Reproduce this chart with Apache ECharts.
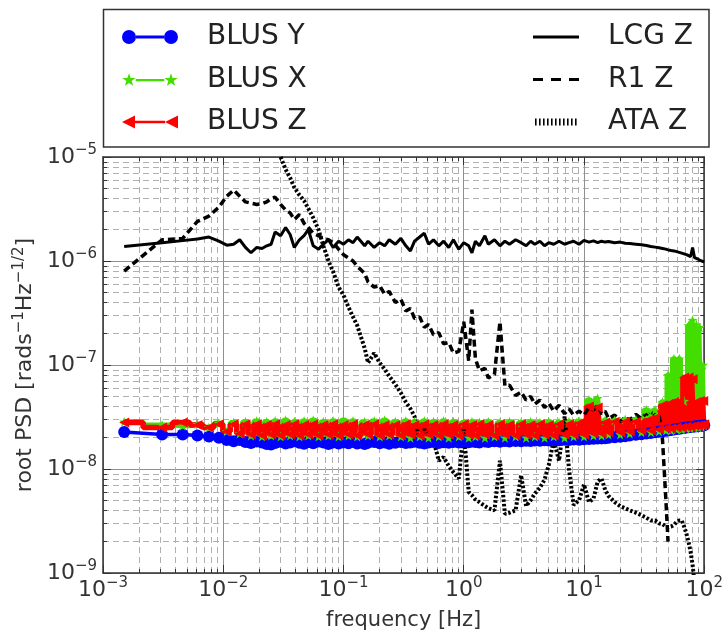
<!DOCTYPE html>
<html><head><meta charset="utf-8">
<script src="https://cdn.jsdelivr.net/npm/echarts@6/dist/echarts.min.js"></script>
<style>html,body{margin:0;padding:0;background:#fff}#c{width:726px;height:636px}</style>
</head><body><div id="c"></div>
<script>
// frequency grid [Hz]
const freq = [0.0015,0.0031,0.0046,0.0061,0.0076,0.0092,0.0107,0.0122,0.0137,0.0153,
 0.017,0.019,0.021,0.023,0.025,0.027,0.03,0.033,0.036,0.039,
 0.043,0.047,0.051,0.056,0.062,0.068,0.075,0.082,0.091,0.1,
 0.11,0.12,0.13,0.15,0.16,0.18,0.2,0.22,0.24,0.27,
 0.3,0.33,0.36,0.39,0.43,0.47,0.51,0.56,0.62,0.68,
 0.75,0.82,0.91,1.0,1.1,1.17,1.25,1.35,1.5,1.6,
 1.8,2.0,2.2,2.4,2.7,3.0,3.3,3.6,3.9,4.3,
 4.7,5.1,5.6,6.2,6.9,7.5,8.2,9.1,10,11,
 12,13,14,15,16,18,20,22,24,27,
 30,33,36,39,42,45,48,50,53,56,
 59,62,65,68,71,74,77,80,83,86,
 89,92,95,98,100];

const blusY = [2.27e-8,2.15e-8,2.15e-8,2.1e-8,2.05e-8,2.0e-8,1.9e-8,1.85e-8,1.9e-8,1.82e-8,
 1.78e-8,1.84e-8,1.8e-8,1.74e-8,1.72e-8,1.78e-8,1.83e-8,1.76e-8,1.8e-8,1.85e-8,
 1.79e-8,1.75e-8,1.82e-8,1.77e-8,1.84e-8,1.8e-8,1.74e-8,1.8e-8,1.76e-8,1.8e-8,
 1.77e-8,1.83e-8,1.76e-8,1.74e-8,1.79e-8,1.82e-8,1.77e-8,1.8e-8,1.75e-8,1.79e-8,
 1.82e-8,1.78e-8,1.8e-8,1.83e-8,1.79e-8,1.76e-8,1.8e-8,1.82e-8,1.78e-8,1.81e-8,
 1.79e-8,1.82e-8,1.8e-8,1.83e-8,1.81e-8,1.84e-8,1.82e-8,1.8e-8,1.84e-8,1.82e-8,
 1.85e-8,1.83e-8,1.86e-8,1.84e-8,1.86e-8,1.85e-8,1.87e-8,1.86e-8,1.88e-8,1.87e-8,
 1.89e-8,1.88e-8,1.9e-8,1.89e-8,1.91e-8,1.9e-8,1.92e-8,1.91e-8,1.93e-8,1.94e-8,
 1.95e-8,1.96e-8,1.97e-8,1.98e-8,2.0e-8,2.02e-8,2.04e-8,2.07e-8,2.1e-8,2.13e-8,
 2.16e-8,2.19e-8,2.22e-8,2.25e-8,2.28e-8,2.3e-8,2.33e-8,2.35e-8,2.37e-8,2.4e-8,
 2.42e-8,2.44e-8,2.46e-8,2.48e-8,2.5e-8,2.52e-8,2.53e-8,2.55e-8,2.56e-8,2.57e-8,
 2.58e-8,2.6e-8,2.61e-8,2.62e-8,2.63e-8];

const blusX = [2.85e-8,2.65e-8,2.6e-8,2.7e-8,2.5e-8,2.75e-8,2.3e-8,2.8e-8,2.2e-8,2.85e-8,
 2.1e-8,2.9e-8,2.05e-8,2.85e-8,2.1e-8,2.9e-8,2.05e-8,2.95e-8,2.1e-8,2.85e-8,
 2.05e-8,2.9e-8,2.1e-8,2.95e-8,2.05e-8,2.85e-8,2.1e-8,2.9e-8,2.05e-8,2.95e-8,
 2.1e-8,2.9e-8,2.05e-8,2.85e-8,2.1e-8,2.9e-8,2.05e-8,2.95e-8,2.1e-8,2.85e-8,
 2.05e-8,2.9e-8,2.0e-8,2.85e-8,2.05e-8,2.9e-8,2.0e-8,2.85e-8,2.05e-8,2.9e-8,
 2.0e-8,2.85e-8,2.05e-8,2.8e-8,2.0e-8,2.85e-8,2.05e-8,2.8e-8,2.0e-8,2.85e-8,
 2.05e-8,2.8e-8,2.0e-8,2.85e-8,2.05e-8,2.8e-8,2.0e-8,2.85e-8,2.05e-8,2.8e-8,
 2.0e-8,2.85e-8,2.05e-8,2.8e-8,2.0e-8,2.85e-8,2.05e-8,2.9e-8,2.05e-8,4.6e-8,
 2.1e-8,4.8e-8,2.1e-8,2.95e-8,2.15e-8,2.95e-8,2.15e-8,3.0e-8,2.2e-8,3.0e-8,
 2.25e-8,3.7e-8,2.25e-8,3.7e-8,2.3e-8,4.4e-8,2.35e-8,8.0e-8,2.35e-8,1.15e-7,
 2.4e-8,1.15e-7,2.4e-8,4.5e-8,2.45e-8,2.4e-7,2.45e-8,2.7e-7,2.5e-8,2.45e-7,
 2.5e-8,2.3e-7,2.55e-8,1.0e-7,2.6e-8];

const blusZ = [2.8e-8,2.5e-8,2.8e-8,2.65e-8,2.5e-8,2.7e-8,2.3e-8,2.7e-8,2.2e-8,2.7e-8,
 2.15e-8,2.7e-8,2.1e-8,2.65e-8,2.15e-8,2.7e-8,2.1e-8,2.65e-8,2.15e-8,2.7e-8,
 2.1e-8,2.65e-8,2.15e-8,2.7e-8,2.1e-8,2.65e-8,2.15e-8,2.7e-8,2.1e-8,2.65e-8,
 2.15e-8,2.7e-8,2.1e-8,2.65e-8,2.15e-8,2.7e-8,2.1e-8,2.65e-8,2.15e-8,2.65e-8,
 2.1e-8,2.7e-8,2.15e-8,2.65e-8,2.1e-8,2.7e-8,2.15e-8,2.65e-8,2.1e-8,2.7e-8,
 2.15e-8,2.65e-8,2.1e-8,2.7e-8,2.15e-8,2.65e-8,2.1e-8,2.7e-8,2.15e-8,2.65e-8,
 2.1e-8,2.7e-8,2.15e-8,2.65e-8,2.1e-8,2.7e-8,2.15e-8,2.65e-8,2.1e-8,2.7e-8,
 2.15e-8,2.65e-8,2.1e-8,2.7e-8,2.15e-8,2.7e-8,2.15e-8,2.75e-8,2.15e-8,4.0e-8,
 2.2e-8,3.9e-8,2.2e-8,2.8e-8,2.25e-8,2.85e-8,2.25e-8,2.85e-8,2.3e-8,2.85e-8,
 2.35e-8,2.9e-8,2.35e-8,3.1e-8,2.4e-8,4.1e-8,2.45e-8,4.2e-8,2.45e-8,4.4e-8,
 2.5e-8,4.4e-8,2.5e-8,7.6e-8,2.55e-8,7.6e-8,2.55e-8,7.3e-8,2.6e-8,4.4e-8,
 2.6e-8,4.5e-8,2.65e-8,4.5e-8,2.7e-8];

const lcgZ = [1.38e-6,1.5e-6,1.57e-6,1.63e-6,1.7e-6,1.55e-6,1.42e-6,1.45e-6,1.6e-6,1.35e-6,
 1.2e-6,1.35e-6,1.32e-6,1.4e-6,1.45e-6,1.9e-6,1.75e-6,2.1e-6,1.8e-6,1.35e-6,
 1.6e-6,1.75e-6,2.0e-6,1.4e-6,1.3e-6,1.45e-6,1.6e-6,1.35e-6,1.55e-6,1.45e-6,
 1.6e-6,1.5e-6,1.7e-6,1.4e-6,1.55e-6,1.35e-6,1.5e-6,1.4e-6,1.6e-6,1.45e-6,
 1.65e-6,1.4e-6,1.25e-6,1.55e-6,1.7e-6,1.85e-6,1.45e-6,1.6e-6,1.4e-6,1.55e-6,
 1.35e-6,1.6e-6,1.3e-6,1.5e-6,1.4e-6,1.2e-6,1.55e-6,1.4e-6,1.75e-6,1.45e-6,
 1.6e-6,1.4e-6,1.55e-6,1.45e-6,1.6e-6,1.5e-6,1.4e-6,1.55e-6,1.45e-6,1.55e-6,
 1.4e-6,1.5e-6,1.45e-6,1.55e-6,1.45e-6,1.5e-6,1.55e-6,1.45e-6,1.58e-6,1.52e-6,
 1.56e-6,1.5e-6,1.55e-6,1.52e-6,1.54e-6,1.5e-6,1.52e-6,1.48e-6,1.47e-6,1.45e-6,
 1.43e-6,1.41e-6,1.38e-6,1.36e-6,1.34e-6,1.32e-6,1.3e-6,1.28e-6,1.26e-6,1.25e-6,
 1.23e-6,1.21e-6,1.19e-6,1.17e-6,1.15e-6,1.13e-6,1.1e-6,1.35e-6,1.08e-6,1.06e-6,
 1.04e-6,1.02e-6,1.0e-6,0.99e-6,0.98e-6];

const r1Z = [8.0e-7,1.6e-6,1.65e-6,2.4e-6,2.7e-6,3.3e-6,4.2e-6,4.8e-6,4.2e-6,3.7e-6,
 3.6e-6,3.5e-6,3.55e-6,3.7e-6,4.0e-6,4.1e-6,3.5e-6,3.1e-6,2.9e-6,2.5e-6,
 2.8e-6,2.3e-6,2.1e-6,1.85e-6,1.75e-6,1.65e-6,1.6e-6,1.5e-6,1.3e-6,1.15e-6,
 1.07e-6,1.0e-6,8.9e-7,7.6e-7,6.3e-7,5.6e-7,5.8e-7,4.8e-7,5.1e-7,4.0e-7,
 4.3e-7,3.3e-7,3.5e-7,2.8e-7,2.9e-7,2.3e-7,2.45e-7,1.95e-7,2.05e-7,1.6e-7,
 1.65e-7,1.3e-7,1.35e-7,2.6e-7,1.1e-7,3.4e-7,1.15e-7,8.8e-8,9.3e-8,7.5e-8,
 8.1e-8,2.6e-7,6.3e-8,6.4e-8,5.1e-8,5.5e-8,4.6e-8,5.0e-8,4.2e-8,4.6e-8,
 3.9e-8,4.3e-8,3.6e-8,4.1e-8,3.4e-8,3.8e-8,3.3e-8,3.6e-8,3.3e-8,3.9e-8,
 3.7e-8,4.1e-8,3.4e-8,3.6e-8,3.05e-8,3.3e-8,2.85e-8,3.15e-8,2.95e-8,3.35e-8,
 3.05e-8,3.45e-8,3.25e-8,3.6e-8,3.4e-8,1.9e-8,5e-9,2e-9,null,null,
 null,null,null,null,null,null,null,null,null,null,
 null,null,null,null,null];

const ataZ = [null,null,null,null,null,null,null,null,null,null,
 null,null,null,null,null,null,1.0e-5,7.6e-6,6.3e-6,5.1e-6,
 4.3e-6,3.8e-6,3.2e-6,2.6e-6,2.0e-6,1.4e-6,1.0e-6,7.9e-7,5.6e-7,4.7e-7,
 3.6e-7,2.9e-7,2.4e-7,1.45e-7,1.05e-7,1.3e-7,1.05e-7,9.1e-8,7.8e-8,6.5e-8,
 5.4e-8,4.4e-8,3.8e-8,3.2e-8,1.8e-8,2.4e-8,2.1e-8,1.9e-8,1.2e-8,1.3e-8,
 1.07e-8,9.3e-9,8.1e-9,2.4e-8,6.0e-9,5.6e-9,5.1e-9,4.8e-9,4.4e-9,4.2e-9,
 4.0e-9,1.2e-8,3.7e-9,3.8e-9,4.0e-9,8.7e-9,4.4e-9,5.0e-9,5.8e-9,6.6e-9,
 7.9e-9,1.1e-8,1.9e-8,1.2e-8,3.2e-8,1.0e-8,4.5e-9,5.0e-9,7.1e-9,4.8e-9,
 5.2e-9,7.6e-9,8.1e-9,6.3e-9,5.5e-9,4.8e-9,4.4e-9,4.2e-9,4.0e-9,3.8e-9,
 3.6e-9,3.4e-9,3.2e-9,3.2e-9,3.0e-9,2.95e-9,2.8e-9,2.75e-9,2.8e-9,2.9e-9,
 3.1e-9,3.2e-9,3.2e-9,2.8e-9,2.4e-9,2.0e-9,1.6e-9,1.2e-9,8e-10,5e-10,
 null,null,null,null,null];

const xTickRange = [1e-3, 1e2];
const yTickRange = [1e-9, 1e-5];

const FONT = 'DejaVu Sans';
const TXT = '#333';
function pairs(arr){ return freq.map(function(f,i){ return [f, arr[i]]; }); }
function supLabel(v){
  const e = Math.round(Math.log10(v));
  return '{b|10}{s|' + (e < 0 ? '\u2212' + (-e) : String(e)) + '}';
}
const richTick = {
  b: {fontSize: 22, fontFamily: FONT, color: TXT},
  s: {fontSize: 15, fontFamily: FONT, color: TXT, padding: [0,0,13,0]}
};

// legend icons
const iconY = 'path://M0,0M56,14M0,7a7,7 0 1,0 14,0a7,7 0 1,0 -14,0Z M42,7a7,7 0 1,0 14,0a7,7 0 1,0 -14,0Z M14,5.6H42V8.4H14Z';
const iconX = 'path://M0,0M56,14M7,0.7L8.65,5.43L13.66,5.54L9.66,8.57L11.11,13.36L7,10.5L2.89,13.36L4.34,8.57L0.34,5.54L5.35,5.43Z' +
  'M49,0.7L50.65,5.43L55.66,5.54L51.66,8.57L53.11,13.36L49,10.5L44.89,13.36L46.34,8.57L42.34,5.54L47.35,5.43Z M13.7,6.4H42.3V8.8H13.7Z';
const iconZ = 'path://M0,0M56,14M0,7L13,0.5L13,13.5Z M43,7L56,0.5L56,13.5Z M13,5.8H43V8.2H13Z';
const iconLCG = 'path://M0,0M46,14M0,5.6H46V8.4H0Z';
const iconR1 = 'path://M0,0M46,14M0,5.6H10V8.4H0Z M18,5.6H28V8.4H18Z M36,5.6H46V8.4H36Z';
let ataPath = 'path://M0,0M46,14';
for (let k = 0; k < 11; k++) { const x0 = 2 + k * 4; ataPath += 'M' + x0 + ',3.5h1.6v7h-1.6Z'; }
const iconATA = ataPath;

const starSym = 'path://M0,-7L1.65,-2.27L6.66,-2.16L2.66,0.87L4.11,5.66L0,2.8L-4.11,5.66L-2.66,0.87L-6.66,-2.16L-1.65,-2.27Z';
const triLeft = 'path://M0,5L10,0L10,10Z';

function baseAxis(pos, range, showLabel){
  return {
    type: 'log', logBase: 10, min: range[0], max: range[1], position: pos,
    axisLine: {show: true, onZero: false, lineStyle: {color: '#333', width: 1.5}},
    axisTick: {show: true, inside: true, length: 8, lineStyle: {color: '#333', width: 1}},
    minorTick: {show: true, splitNumber: 9, length: 4, lineStyle: {color: '#333', width: 1}},
    splitLine: {show: showLabel, lineStyle: {color: '#8f8f8f', width: 1}},
    minorSplitLine: {show: showLabel, lineStyle: {color: '#b0b0b0', width: 1, type: [6,4]}},
    axisLabel: {show: showLabel, formatter: supLabel, rich: richTick},
    silent: true
  };
}
const xMain = baseAxis('bottom', xTickRange, true);
xMain.axisLabel.margin = 3;
xMain.name = 'frequency [Hz]';
xMain.nameLocation = 'middle';
xMain.nameGap = 37;
xMain.nameTextStyle = {fontSize: 21, fontFamily: FONT, color: TXT};
const xTop = baseAxis('top', xTickRange, false);
const yMain = baseAxis('left', yTickRange, true);
yMain.axisLabel.margin = 6;
yMain.name = 'root PSD [rads{s|\u22121}Hz{s|\u22121/2}]';
yMain.nameLocation = 'middle';
yMain.nameGap = 57;
yMain.nameTextStyle = {fontSize: 22, fontFamily: FONT, color: TXT,
  rich: {s: {fontSize: 15, fontFamily: FONT, color: TXT, padding: [0,0,11,0]}}};
const yRight = baseAxis('right', yTickRange, false);

const chart = echarts.init(document.getElementById('c'), null, {renderer: 'canvas'});
const legendText = {fontSize: 28, fontFamily: FONT, color: '#222', padding: [0,0,0,24]};
chart.setOption({
  animation: false,
  backgroundColor: '#fff',
  grid: {left: 103, right: 17, top: 157, bottom: 63, containLabel: false},
  xAxis: [xMain, xTop],
  yAxis: [yMain, yRight],
  legend: [
    {orient: 'vertical', left: 117, top: 18, itemWidth: 56, itemHeight: 14, itemGap: 14.5,
     textStyle: legendText, itemStyle: {borderWidth: 0}, selectedMode: false,
     data: [{name: 'BLUS Y', icon: iconY}, {name: 'BLUS X', icon: iconX}, {name: 'BLUS Z', icon: iconZ}]},
    {orient: 'vertical', left: 528, top: 18, itemWidth: 46, itemHeight: 14, itemGap: 14.5,
     textStyle: legendText, itemStyle: {borderWidth: 0}, selectedMode: false,
     data: [{name: 'LCG Z', icon: iconLCG}, {name: 'R1 Z', icon: iconR1}, {name: 'ATA Z', icon: iconATA}]}
  ],
  graphic: [{type: 'rect', shape: {x: 103.5, y: 9.5, width: 605.5, height: 137.5},
    style: {fill: 'none', stroke: '#333', lineWidth: 1.5}, silent: true}],
  series: [
    {name: 'BLUS Y', type: 'line', data: pairs(blusY), color: '#0000ff',
     lineStyle: {width: 3.5, color: '#0000ff'}, itemStyle: {color: '#0000ff'},
     symbol: 'circle', symbolSize: 12, silent: true},
    {name: 'BLUS X', type: 'line', data: pairs(blusX), color: '#44dd00', step: 'middle',
     lineStyle: {width: 5, color: '#44dd00'}, itemStyle: {color: '#44dd00'},
     symbol: starSym, symbolSize: 10, silent: true},
    {name: 'BLUS Z', type: 'line', data: pairs(blusZ), color: '#ff0000', step: 'middle',
     lineStyle: {width: 5.5, color: '#ff0000'}, itemStyle: {color: '#ff0000'},
     symbol: triLeft, symbolSize: 10, silent: true},
    {name: 'LCG Z', type: 'line', data: pairs(lcgZ), color: '#000',
     lineStyle: {width: 3, color: '#000'}, itemStyle: {color: '#000'},
     showSymbol: false, symbol: 'none', silent: true},
    {name: 'R1 Z', type: 'line', data: pairs(r1Z), color: '#000',
     lineStyle: {width: 3.5, color: '#000', type: [7,4]}, itemStyle: {color: '#000'},
     showSymbol: false, symbol: 'none', silent: true},
    {name: 'ATA Z', type: 'line', data: pairs(ataZ), color: '#000',
     lineStyle: {width: 4, color: '#000', type: [2.5,2]}, itemStyle: {color: '#000'},
     showSymbol: false, symbol: 'none', silent: true}
  ]
});
</script>
</body></html>
